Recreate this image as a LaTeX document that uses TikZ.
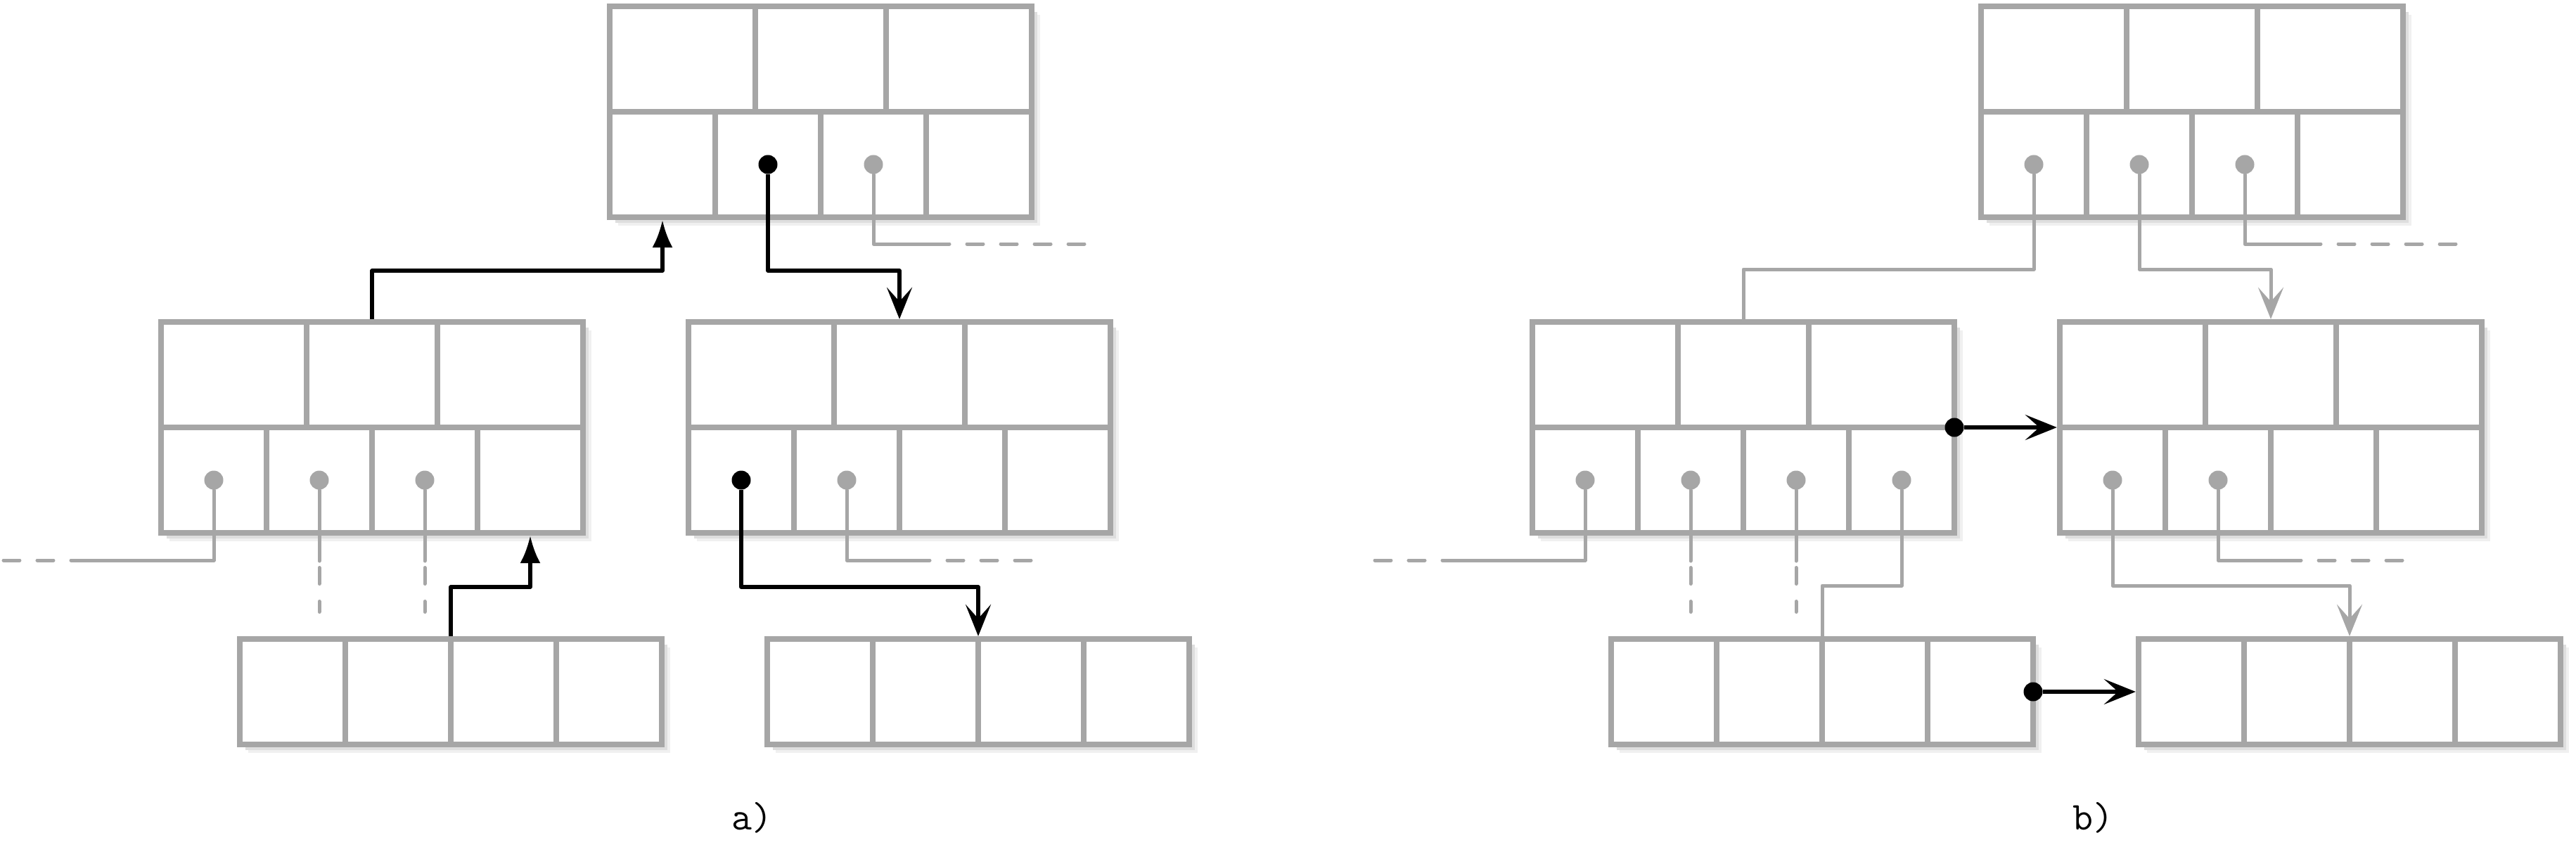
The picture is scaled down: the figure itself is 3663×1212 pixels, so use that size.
\documentclass[tikz,border=0pt]{standalone}
\usepackage{fontspec}
\usetikzlibrary{arrows.meta,shadows}
\definecolor{boxgray}{RGB}{166,166,166}
\tikzset{
  bigb/.style={draw=boxgray, line width=0.08cm, fill=white, minimum width=6cm, minimum height=3cm, inner sep=0pt,
    drop shadow={shadow xshift=0.12cm, shadow yshift=-0.12cm, fill=black!6, opacity=1},
    drop shadow={shadow xshift=0.08cm, shadow yshift=-0.08cm, fill=black!13, opacity=1}},
  smallb/.style={bigb, minimum height=1.5cm},
  innerl/.style={draw=boxgray, line width=0.08cm},
  gline/.style={draw=boxgray, line width=0.05cm, line cap=round, line join=round},
  gdash/.style={gline, dash pattern=on 0.23cm off 0.25cm, dash phase=0.23cm},
  bline/.style={draw=black, line width=0.055cm, line join=round},
  sarrow/.style={-{Stealth[length=0.45cm,width=0.36cm,inset=0.2cm]}},
  larrow/.style={-{Latex[length=0.39cm,width=0.29cm]}},
  gdot/.style={circle, fill=boxgray, inner sep=0pt, minimum size=0.27cm},
  bdot/.style={circle, fill=black, inner sep=0pt, minimum size=0.27cm},
  lab/.style={font=\ttfamily\fontsize{16}{19}\selectfont, inner sep=0pt}
}
\newcommand\bigbox[2]{%
  \begin{scope}[shift={(#2)}]
    \node[bigb] (#1) at (0,0) {};
    \draw[innerl] (-300,0) -- (300,0);
    \draw[innerl] (-93,-150) -- (-93,0);
    \draw[innerl] (93,-150) -- (93,0);
    \draw[innerl] (-150,0) -- (-150,150);
    \draw[innerl] (0,0) -- (0,150);
    \draw[innerl] (150,0) -- (150,150);
    \coordinate (#1-d1) at (-225,75);
    \coordinate (#1-d2) at (-75,75);
    \coordinate (#1-d3) at (75,75);
    \coordinate (#1-d4) at (225,75);
    \coordinate (#1-s1) at (-225,154);
    \coordinate (#1-s4) at (225,154);
    \coordinate (#1-e) at (300,0);
  \end{scope}}
\newcommand\smallbox[2]{%
  \begin{scope}[shift={(#2)}]
    \node[smallb] (#1) at (0,0) {};
    \draw[innerl] (-150,-75) -- (-150,75);
    \draw[innerl] (0,-75) -- (0,75);
    \draw[innerl] (150,-75) -- (150,75);
    \coordinate (#1-e) at (300,0);
  \end{scope}}
\begin{document}
\begin{tikzpicture}[x=0.01cm, y=-0.01cm]
\useasboundingbox (0,0) rectangle (3663,1212);
% ---------- boxes, panel a
\bigbox{Ta}{1167,159}
\bigbox{La}{529,608}
\bigbox{Ra}{1279,608}
\smallbox{BLa}{641,984}
\smallbox{BRa}{1391,984}
% ---------- boxes, panel b
\bigbox{Tb}{3117,159}
\bigbox{Lb}{2479,608}
\bigbox{Rb}{3229,608}
\smallbox{BLb}{2591,984}
\smallbox{BRb}{3341,984}
% ---------- helper coordinates
\coordinate (hT) at (0,385);
\coordinate (hTb) at (0,383);
\coordinate (hL) at (0,835);
\coordinate (hLb) at (0,833);
\coordinate (vd0) at (0,798);
\coordinate (vd1) at (0,807.5);
\coordinate (vd2) at (0,830.5);
\coordinate (vd3) at (0,855.5);
\coordinate (vd4) at (0,870.5);
\coordinate (a-t3) at (1350,347);
\coordinate (a-l1) at (101,797);
\coordinate (a-r2) at (1322,797);
\coordinate (b-t3) at (3300,347);
\coordinate (b-l1) at (2051,797);
\coordinate (b-r2) at (3272,797);
% ---------- dots
\node[bdot] (Ta-p2) at (Ta-d2) {};
\node[gdot] (Ta-p3) at (Ta-d3) {};
\node[gdot] (La-p1) at (La-d1) {};
\node[gdot] (La-p2) at (La-d2) {};
\node[gdot] (La-p3) at (La-d3) {};
\node[bdot] (Ra-p1) at (Ra-d1) {};
\node[gdot] (Ra-p2) at (Ra-d2) {};
\node[gdot] (Tb-p1) at (Tb-d1) {};
\node[gdot] (Tb-p2) at (Tb-d2) {};
\node[gdot] (Tb-p3) at (Tb-d3) {};
\node[gdot] (Lb-p1) at (Lb-d1) {};
\node[gdot] (Lb-p2) at (Lb-d2) {};
\node[gdot] (Lb-p3) at (Lb-d3) {};
\node[gdot] (Lb-p4) at (Lb-d4) {};
\node[gdot] (Rb-p1) at (Rb-d1) {};
\node[gdot] (Rb-p2) at (Rb-d2) {};
\node[bdot] (Lb-q) at (Lb-e) {};
\node[bdot] (BLb-q) at (BLb-e) {};
% ---------- connectors, panel a
\draw[bline, sarrow] (Ta-p2.south) |- (Ra.north |- hT) -- (Ra.north);
\draw[bline, larrow] (La.north) |- (Ta-s1 |- hT) -- (Ta-s1);
\draw[bline, larrow] (BLa.north) |- (La-s4 |- hL) -- (La-s4);
\draw[bline, sarrow] (Ra-p1.south) |- (BRa.north |- hL) -- (BRa.north);
\draw[gline] (Ta-p3.south) |- (a-t3);
\draw[gdash] (a-t3) -- ++(192,0);
\draw[gline] (La-p1.south) |- (a-l1);
\draw[gdash] (a-l1) -- ++(-96,0);
\draw[gline] (La-p2.south) -- (La-p2 |- vd0);
\draw[gline] (La-p2 |- vd1) -- (La-p2 |- vd2);
\draw[gline] (La-p2 |- vd3) -- (La-p2 |- vd4);
\draw[gline] (La-p3.south) -- (La-p3 |- vd0);
\draw[gline] (La-p3 |- vd1) -- (La-p3 |- vd2);
\draw[gline] (La-p3 |- vd3) -- (La-p3 |- vd4);
\draw[gline] (Ra-p2.south) |- (a-r2);
\draw[gdash] (a-r2) -- ++(144,0);
% ---------- connectors, panel b
\draw[gline] (Tb-p1.south) |- (Lb.north |- hTb) -- (Lb.north);
\draw[gline, sarrow] (Tb-p2.south) |- (Rb.north |- hTb) -- (Rb.north);
\draw[gline] (Tb-p3.south) |- (b-t3);
\draw[gdash] (b-t3) -- ++(192,0);
\draw[gline] (Lb-p1.south) |- (b-l1);
\draw[gdash] (b-l1) -- ++(-96,0);
\draw[gline] (Lb-p2.south) -- (Lb-p2 |- vd0);
\draw[gline] (Lb-p2 |- vd1) -- (Lb-p2 |- vd2);
\draw[gline] (Lb-p2 |- vd3) -- (Lb-p2 |- vd4);
\draw[gline] (Lb-p3.south) -- (Lb-p3 |- vd0);
\draw[gline] (Lb-p3 |- vd1) -- (Lb-p3 |- vd2);
\draw[gline] (Lb-p3 |- vd3) -- (Lb-p3 |- vd4);
\draw[gline] (Lb-p4.south) |- (BLb.north |- hLb) -- (BLb.north);
\draw[bline, sarrow] (Lb-q.east) -- (Rb.west);
\draw[bline, sarrow] (BLb-q.east) -- (BRb.west);
\draw[gline, sarrow] (Rb-p1.south) |- (BRb.north |- hLb) -- (BRb.north);
\draw[gline] (Rb-p2.south) |- (b-r2);
\draw[gdash] (b-r2) -- ++(144,0);
% ---------- labels
\node[lab] (la) at (1069,1163) {a)};
\node[lab] (lb) at (2976,1163) {b)};
\end{tikzpicture}
\end{document}
